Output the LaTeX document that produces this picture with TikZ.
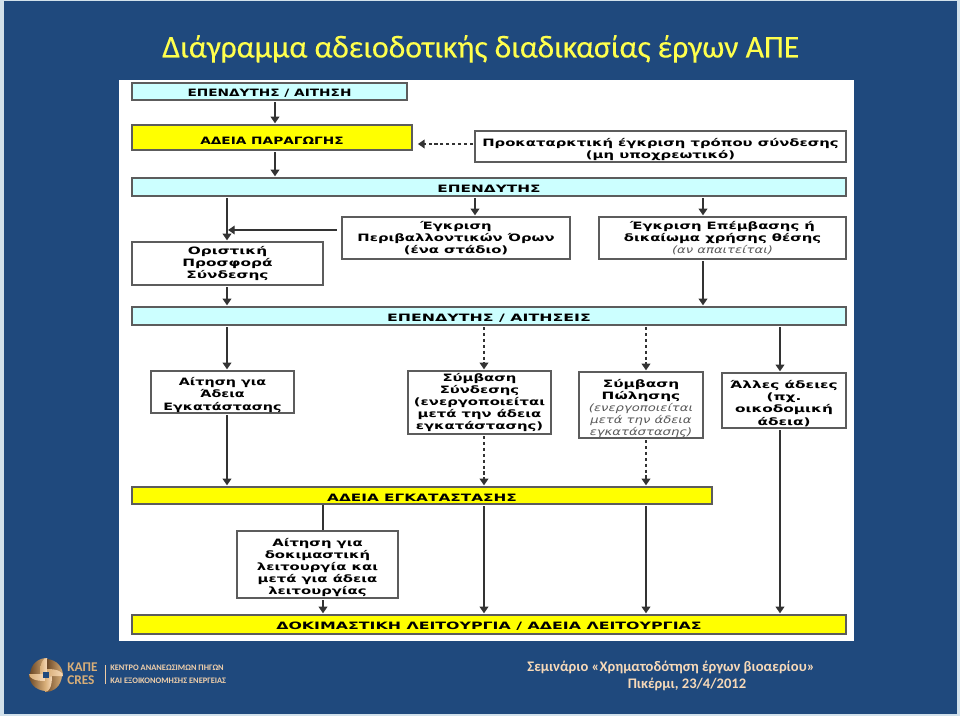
\documentclass[tikz,border=0pt]{standalone}
\usepackage{fontspec}
\usetikzlibrary{arrows.meta}
\setmainfont{Carlito}
\newfontfamily\ttl[FakeBold=0.25]{Carlito}
\newfontfamily\fa[FakeStretch=1.35]{DejaVu Sans}
\newfontfamily\fg[FakeStretch=1.41]{DejaVu Sans}
\newfontfamily\fb[FakeStretch=1.46]{DejaVu Sans}
\newfontfamily\fc[FakeStretch=1.51]{DejaVu Sans}
\newfontfamily\fd[FakeStretch=1.56]{DejaVu Sans}
\newfontfamily\fe[FakeStretch=1.30]{DejaVu Sans}
\definecolor{navy}{HTML}{1F497D}
\definecolor{edge}{HTML}{8FB4CC}
\definecolor{cy}{HTML}{CCFFFF}
\definecolor{yel}{HTML}{FFFF00}
\definecolor{ttlc}{HTML}{FFFF4D}
\definecolor{peach}{HTML}{F7D9B8}
\definecolor{line}{HTML}{333333}
\definecolor{bronzeA}{HTML}{D8AE78}
\definecolor{bronzeB}{HTML}{6E4A28}
\newcommand{\fsz}{\fontsize{7.6}{9.1}\selectfont}
\newcommand{\note}[1]{{\fe\mdseries\itshape\color{black!65}#1}}
\tikzset{
  bx/.style={draw=line!80!white,line width=0.9pt,inner sep=0pt,align=center,text=black,execute at begin node={\rule{0pt}{8.4pt}}},
  whitebox/.style={bx,fill=white},
  cybox/.style={bx,fill=cy},
  yelbox/.style={bx,fill=yel},
  fnta/.style={font=\fa\bfseries\fsz},
  fntg/.style={font=\fg\bfseries\fsz},
  fntb/.style={font=\fb\bfseries\fsz},
  fntc/.style={font=\fc\bfseries\fsz},
  fntd/.style={font=\fd\bfseries\fsz},
  arr/.style={draw=line,line width=1.1pt,-{Triangle[length=5pt,width=6.5pt]},shorten >=0.8pt,shorten <=1.2pt},
  dsh/.style={arr,dash pattern=on 2.4pt off 2pt},
  plain/.style={draw=line,line width=1.1pt},
}
\begin{document}
\begin{tikzpicture}[x=0.75pt,y=-0.75pt]
\useasboundingbox (0,0) rectangle (960,716);
\fill[edge!40!white] (0,0) rectangle (960,716);
\fill[navy] (4,1) rectangle (957,714);
\fill[white] (119,80) rectangle (853.5,641);
\node[anchor=base west,text=ttlc,font=\ttl\fontsize{23.8}{28}\selectfont,inner sep=0pt] (title) at (162,57.5) {Διάγραμμα αδειοδοτικής διαδικασίας έργων ΑΠΕ};
% columns
\coordinate (c1) at (227,0);
\coordinate (c2) at (275,0);
\coordinate (c3) at (475,0);
\coordinate (c4) at (703,0);
\coordinate (c5) at (484,0);
\coordinate (c6) at (646,0);
\coordinate (c7) at (780,0);
\coordinate (c8) at (323,0);
% boxes
\node[cybox,fnta,minimum width=206.25pt,minimum height=12.75pt] (inv1) at (269.5,91.5) {ΕΠΕΝΔΥΤΗΣ / ΑΙΤΗΣΗ};
\node[yelbox,fnta,minimum width=210pt,minimum height=18.75pt] (prod) at (272,137.5) {\rule{0pt}{10.7pt}ΑΔΕΙΑ ΠΑΡΑΓΩΓΗΣ};
\node[whitebox,fntb,minimum width=278.25pt,minimum height=23.25pt] (pre) at (660.5,146.5) {\rule{0pt}{10pt}Προκαταρκτική έγκριση τρόπου σύνδεσης\\(μη υποχρεωτικό)};
\node[cybox,fntc,minimum width=535.5pt,minimum height=13.5pt] (inv2) at (489,187) {ΕΠΕΝΔΥΤΗΣ};
\node[whitebox,fntb,minimum width=171pt,minimum height=31.5pt] (env) at (456,238) {Έγκριση\\Περιβαλλοντικών Όρων\\(ένα στάδιο)};
\node[whitebox,fntb,minimum width=185.25pt,minimum height=31.5pt] (site) at (722.5,238) {Έγκριση Επέμβασης ή\\δικαίωμα χρήσης θέσης\\\note{(αν απαιτείται)}};
\node[whitebox,fntc,minimum width=143.25pt,minimum height=32.25pt] (offer) at (227.5,263.5) {Οριστική\\Προσφορά\\Σύνδεσης};
\node[cybox,fntd,minimum width=535.5pt,minimum height=13.5pt] (inv3) at (489,316) {ΕΠΕΝΔΥΤΗΣ / ΑΙΤΗΣΕΙΣ};
\node[whitebox,fntg,minimum width=107.25pt,minimum height=31.5pt] (appl) at (222.5,392) {\rule{0pt}{10.5pt}Αίτηση για\\Άδεια\\Εγκατάστασης};
\node[whitebox,fntb,minimum width=107.25pt,minimum height=47.25pt] (conn) at (479.5,402.5) {Σύμβαση\\Σύνδεσης\\(ενεργοποιείται\\μετά την άδεια\\εγκατάστασης)};
\node[whitebox,fntc,minimum width=93pt,minimum height=46.5pt] (sale) at (641,405) {\rule{0pt}{11.5pt}Σύμβαση\\Πώλησης\\\note{(ενεργοποιείται}\\\note{μετά την άδεια}\\\note{εγκατάστασης)}};
\node[whitebox,fntc,minimum width=93pt,minimum height=41.25pt] (other) at (784,400.5) {\rule{0pt}{10.5pt}Άλλες άδειες\\(πχ.\\οικοδομική\\άδεια)};
\node[yelbox,fntc,minimum width=435pt,minimum height=12.75pt] (inst) at (422,495.5) {ΑΔΕΙΑ ΕΓΚΑΤΑΣΤΑΣΗΣ};
\node[whitebox,fntb,minimum width=120.75pt,minimum height=50.25pt] (test) at (317.5,564.5) {\rule{0pt}{10.5pt}Αίτηση για\\δοκιμαστική\\λειτουργία και\\μετά για άδεια\\λειτουργίας};
\node[yelbox,fntd,minimum width=535.5pt,minimum height=14.25pt] (oper) at (489,624.5) {ΔΟΚΙΜΑΣΤΙΚΗ ΛΕΙΤΟΥΡΓΙΑ / ΑΔΕΙΑ ΛΕΙΤΟΥΡΓΙΑΣ};
% connectors
\draw[arr] (inv1.south -| c2) -- (prod.north -| c2);
\draw[arr] (prod.south -| c2) -- (inv2.north -| c2);
\coordinate (p) at (0,144);
\draw[dsh,shorten >=4pt] (pre.west |- p) -- (prod.east |- p);
\draw[arr] (inv2.south -| c3) -- (env.north -| c3);
\draw[arr] (inv2.south -| c4) -- (site.north -| c4);
\draw[arr] (inv2.south -| c1) -- (offer.north -| c1);
\coordinate (m) at (227,230);
\draw[arr,shorten <=3.5pt] (env.west |- m) -- (m);
\draw[arr] (offer.south -| c1) -- (inv3.north -| c1);
\draw[arr] (site.south -| c4) -- (inv3.north -| c4);
\draw[arr] (inv3.south -| c1) -- (appl.north -| c1);
\draw[dsh] (inv3.south -| c5) -- (conn.north -| c5);
\draw[dsh] (inv3.south -| c6) -- (sale.north -| c6);
\draw[arr] (inv3.south -| c7) -- (other.north -| c7);
\draw[arr] (appl.south -| c1) -- (inst.north -| c1);
\draw[dsh] (conn.south -| c5) -- (inst.north -| c5);
\draw[dsh] (sale.south -| c6) -- (inst.north -| c6);
\draw[plain] (inst.south -| c8) -- (test.north -| c8);
\draw[arr] (test.south -| c8) -- (oper.north -| c8);
\draw[arr] (inst.south -| c5) -- (oper.north -| c5);
\draw[arr] (inst.south -| c6) -- (oper.north -| c6);
\draw[arr] (other.south -| c7) -- (oper.north -| c7);
% logo
\begin{scope}[shift={(46,675)}]
\foreach \a in {0,90,180,270}{
  \shade[rotate=\a,left color=bronzeB,right color=bronzeA]
    (1,-1) -- (1,-17) .. controls (-8,-17) and (-15,-11) .. (-16,-1) -- cycle;
  \shade[rotate=\a,left color=bronzeA,right color=peach]
    (1,-1) -- (1,-17) .. controls (-3,-17) and (-6,-12) .. (-6,-1) -- cycle;
}
\fill[navy] (-3,-3) rectangle (3,3);
\end{scope}
\node[anchor=west,inner sep=0pt,align=left,text=bronzeA,font=\bfseries\fontsize{10}{9.8}\selectfont] (cres) at (67,674) {ΚΑΠΕ\\CRES};
\node[anchor=west,inner sep=0pt,align=left,text=peach!80!bronzeA,font=\bfseries\fontsize{6.3}{9.6}\selectfont] (kape) at (110,674.5) {ΚΕΝΤΡΟ ΑΝΑΝΕΩΣΙΜΩΝ ΠΗΓΩΝ\\ΚΑΙ ΕΞΟΙΚΟΝΟΜΗΣΗΣ ΕΝΕΡΓΕΙΑΣ};
\draw[peach!70!bronzeA,line width=0.6pt] (105,665) -- (105,684);
% footer
\node[anchor=base,inner sep=0pt,text=peach,font=\bfseries\fontsize{10.95}{13}\selectfont] (sem) at (671,671) {Σεμινάριο «Χρηματοδότηση έργων βιοαερίου»};
\node[anchor=base,inner sep=0pt,text=peach,font=\bfseries\fontsize{10.95}{13}\selectfont] (pik) at (687,688) {Πικέρμι, 23/4/2012};
\end{tikzpicture}
\end{document}
